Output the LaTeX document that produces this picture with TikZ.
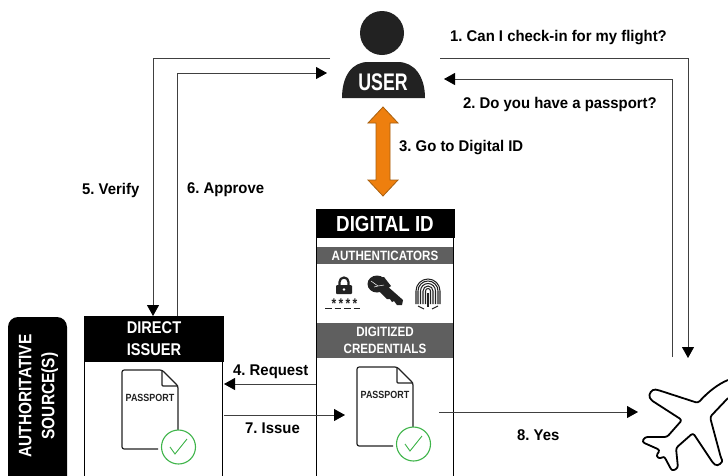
\documentclass[tikz,border=0pt]{standalone}
\usepackage{fontspec}
\setmainfont{Liberation Sans}[FakeStretch=0.86]
\newfontfamily\labfont{Liberation Sans}[FakeStretch=0.96]
\newfontfamily\userfont{Liberation Sans}[FakeStretch=0.74]
\usetikzlibrary{arrows.meta}
\definecolor{band}{HTML}{5F5F5F}
\definecolor{okgreen}{HTML}{3FB54A}
\definecolor{orangeA}{HTML}{EE7F0E}
\definecolor{orangeB}{HTML}{A8600F}
\definecolor{ink}{HTML}{222222}
\tikzset{
  conn/.style={draw=black!75,line width=.9pt},
  arr/.style={conn,-{Triangle[length=11pt,width=12pt,fill=black,color=black]}},
  lab/.style={font=\frenchspacing\labfont\bfseries\fontsize{15.5}{17}\selectfont,text=black,inner sep=0pt,anchor=west},
  hdr/.style={fill=black,text=white,font=\bfseries,inner sep=0pt,align=center},
  bandbox/.style={fill=band,text=white,font=\bfseries,inner sep=0pt,align=center},
  frame/.style={draw=black,line width=1.5pt},
  doc/.style={draw=ink,line width=1.2pt,rounded corners=2.2pt},
  tick/.style={draw=okgreen,line width=1.1pt,fill=white},
  pp/.style={font=\bfseries\fontsize{10.4}{12}\selectfont,text=ink,inner sep=0pt}
}
\newcommand{\passportdoc}[3]{% x, y of top-left, name
  \draw[doc] (#1+56,#2+76) -- (#1+56,#2+16) -- (#1+40,#2) -- (#1,#2) -- (#1,#2+79) -- (#1+36,#2+79);
  \draw[doc,rounded corners=1pt] (#1+40,#2) -- (#1+40,#2+16) -- (#1+56,#2+16);
  \node[pp] (#3text) at (#1+28,#2+28) {PASSPORT};
  \node[tick,circle,minimum size=34pt,inner sep=0pt] (#3ok) at (#1+56.5,#2+77) {};
  \draw[okgreen,line width=.9pt] (#1+48,#2+77) -- (#1+53,#2+84) -- (#1+65,#2+69);
}
\begin{document}
\begin{tikzpicture}[x=1pt,y=-1pt]
\useasboundingbox (0,0) rectangle (728,475);
\fill[white] (0,0) rectangle (728,475);

% user
\fill[ink] (382,33) circle (22);
\fill[ink] (342,98) .. controls (342,76) and (352,62) .. (368,62) -- (398,62) .. controls (414,62) and (425,76) .. (425,98) -- cycle;
\node[text=white,font=\userfont\bfseries\fontsize{24}{26}\selectfont,inner sep=0pt] (user) at (383,82) {USER};

% orange double arrow
\draw[draw=orangeB,fill=orangeA,line width=.8pt,line join=miter]
  (383,107) -- (398,123) -- (390,123) -- (390,180) -- (398,180) -- (383,196) -- (368,180) -- (376,180) -- (376,123) -- (368,123) -- cycle;
\coordinate (go) at (383,151);

% authoritative
\fill[black,rounded corners=10pt] (8,317) rectangle (67,490);
\node[rotate=90,text=white,font=\bfseries\fontsize{18}{23}\selectfont,align=center,inner sep=0pt] (auth) at (38.5,396) {AUTHORITATIVE\\SOURCE(S)};

% direct issuer
\draw[frame] (84.5,362) -- (84.5,480);
\draw[frame] (222.5,362) -- (222.5,480);
\node[hdr,minimum width=140pt,minimum height=46pt,text depth=0pt,font=\bfseries\fontsize{17}{22}\selectfont] (direct) at (154,339) {DIRECT\\ISSUER};
\passportdoc{122}{370}{dir}

% digital id
\draw[frame] (316.5,238) -- (316.5,480);
\draw[frame] (453.5,238) -- (453.5,480);
\node[hdr,minimum width=139pt,minimum height=29pt,font=\bfseries\fontsize{21.8}{24}\selectfont] (digital) at (385,223.5) {DIGITAL ID};
\node[bandbox,minimum width=136pt,minimum height=17pt,font=\bfseries\fontsize{13.5}{15}\selectfont] (authn) at (385,255.5) {AUTHENTICATORS};
\node[bandbox,minimum width=136pt,minimum height=35pt,font=\bfseries\fontsize{13.5}{17}\selectfont] (creds) at (385,340.5) {DIGITIZED\\CREDENTIALS};
\passportdoc{357}{367}{cred}

% lock
\fill[ink,rounded corners=1pt] (336,285) rectangle (352,294);
\draw[ink,line width=2.2pt] (339.5,286) -- (339.5,282) arc (180:360:4.5) -- (348.5,286);
\fill[white] (344,289.5) circle (1.3);
\node[font=\bfseries\fontsize{14}{14}\selectfont,inner sep=0pt,text=ink] (stars) at (344.5,304) {*\,*\,*\,*};
\draw[ink,line width=1pt,dash pattern=on 6.5pt off 3pt] (325,308) -- (363,308);

% key
\fill[ink] (377,284) ellipse (9.5 and 8.5);
\fill[ink] (371,279) -- (384,277) -- (391,286) -- (382,293) -- cycle;
\fill[ink] (386,285) -- (403,300) -- (402,305) -- (397,305) -- (394,301) -- (392,302) -- (390,299) -- (387,299) -- (380,292) -- cycle;
\draw[white,line width=.5pt] (371,281) -- (378,286) -- (384,285) (374,287) -- (378,286);

% fingerprint
\begin{scope}[ink,line width=1.05pt]
\foreach \r in {2.5,5,7.5,10,12}{
  \draw (428-\r,304) -- (428-\r,291) arc (180:360:\r) -- (428+\r,304);
}
\draw (428,293) -- (428,307);
\draw (418,306) -- (424,309) (438,306) -- (432,309);
\end{scope}

% plane
\node[inner sep=0pt,minimum size=1pt] (plane) at (680,412) {};
\draw[black,line width=1.8pt,line join=round,rounded corners=2.5pt]
 (728,380) .. controls (718,384) and (708,392) .. (698,403)
 -- (658,390) .. controls (652,389) and (648,394) .. (651,400)
 -- (682,420) -- (667,437) -- (645,437)
 -- (642,442) -- (660,450) -- (656,456) -- (660,459) -- (664,456)
 -- (672,471) -- (678,468) -- (676,448) -- (693,433)
 -- (713,463) .. controls (718,467) and (723,462) .. (721,458)
 -- (710,417) -- (728,398);

% connectors
\coordinate (u1) at (330,58);
\coordinate (u2) at (327,73);
\coordinate (u3) at (440,58);
\coordinate (u4) at (444,79);
\coordinate (p1) at (688,358);
\coordinate (p2) at (672,357);
\coordinate (d1) at (153,316);
\coordinate (d2) at (177,316);
\draw[arr] (u1) -| (d1);
\draw[arr] (d2) |- (u2);
\draw[arr] (u3) -| (p1);
\draw[arr] (p2) |- (u4);

\coordinate (r1) at (316,384);
\coordinate (r2) at (224,384);
\coordinate (i1) at (224,415);
\coordinate (i2) at (345,415);
\coordinate (y1) at (439,412);
\coordinate (y2) at (638,412);
\draw[arr] (r1) -- (r2);
\draw[arr] (i1) -- (i2);
\draw[arr] (y1) -- (y2);

% labels
\node[lab] (l1) at (450,38) {1. Can I check-in for my flight?};
\node[lab] (l2) at (463,104) {2. Do you have a passport?};
\node[lab] (l3) at (399,148) {3. Go to Digital ID};
\node[lab] (l4) at (233,372) {4. Request};
\node[lab] (l5) at (82,190) {5. Verify};
\node[lab] (l6) at (187,190) {6. Approve};
\node[lab] (l7) at (245,428) {7. Issue};
\node[lab] (l8) at (517,435) {8. Yes};
\end{tikzpicture}
\end{document}
